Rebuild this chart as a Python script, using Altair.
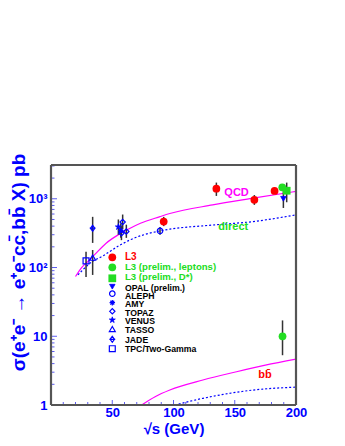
import math
import altair as alt
import pandas as pd

FONT = "Liberation Sans"
BLUE = "#0000ff"
RED = "#ff0000"
GREEN = "#22dd22"
MAGENTA = "#ff00ff"
ERR = "#333333"
FRAME = "#555555"

# ---------------- curves ----------------
qcd_x = [20, 25, 30, 35, 45, 55, 63, 73, 89, 97, 132, 165, 200]
qcd_y = [74, 100, 122, 150, 226, 300, 360, 440, 550, 610, 815, 1019, 1280]
direct_x = [22, 32, 43, 55, 64.5, 89, 97, 132, 165, 200]
direct_y = [78, 116, 150, 205, 252, 341, 361, 415, 466, 583]
bb_qcd_x = [74, 85, 97, 124, 151.5, 175, 200]
bb_qcd_y = [1.0, 1.32, 1.65, 2.31, 3.05, 3.8, 4.65]
bb_dir_x = [101, 124, 165, 200]
bb_dir_y = [1.0, 1.25, 1.65, 1.82]

# ---------------- measurements ----------------
meas_exp = ["L3", "L3", "L3", "L3",
            "L3 (prelim., leptons)", "L3 (prelim., leptons)",
            "L3 (prelim., D*)", "OPAL (prelim.)", "ALEPH", "AMY",
            "TOPAZ", "TOPAZ", "TOPAZ", "VENUS", "TASSO", "JADE", "TPC/Two-Gamma"]
meas_x = [92, 135, 166, 182.5, 188.8, 189, 192.4, 189.7, 89, 57,
          58.5, 57.5, 61.5, 55, 34, 34, 28.6]
meas_y = [466, 1400, 964, 1300, 1470, 10, 1310, 1000, 341, 345,
          460, 315, 335, 390, 139, 373, 125]
meas_lo = [400, 1100, 815, 1200, 1380, 5.3, 890, 735, 300, 270,
           360, 250, 270, 300, 78, 228, 73]
meas_hi = [545, 1720, 1133, 1420, 1560, 17, 1720, 1350, 390, 440,
           590, 400, 420, 500, 180, 546, 169]

legend_labels = ["L3", "L3 (prelim., leptons)", "L3 (prelim., D*)", "OPAL (prelim.)",
                 "ALEPH", "AMY", "TOPAZ", "VENUS", "TASSO", "JADE", "TPC/Two-Gamma"]

curve_labels = ["QCD", "direct", "bb\u0304"]
curve_label_x = [151.5, 148.8, 174.6]
curve_label_y = [1200, 386, 2.73]

# axis ranges
X_MIN, X_MAX = 0, 200
Y_MIN, Y_MAX = 1, 3100

# ---------------- styles ----------------
ASTER = "M-1,0L1,0M0,-1L0,1M-0.7,-0.7L0.7,0.7M-0.7,0.7L0.7,-0.7"
STAR = ("M0,-1L0.2245,-0.309L0.951,-0.309L0.363,0.118L0.588,0.809L0,0.382"
        "L-0.588,0.809L-0.363,0.118L-0.951,-0.309L-0.2245,-0.309Z")
JADE = "M0,-1L0.75,0L0,1L-0.75,0ZM-1,0L1,0"
STYLE = {
    "L3": dict(shape="circle", filled=True, color=RED, size=60, text=RED, fs=10),
    "L3 (prelim., leptons)": dict(shape="circle", filled=True, color=GREEN, size=60, text=GREEN, fs=9.6),
    "L3 (prelim., D*)": dict(shape="square", filled=True, color=GREEN, size=60, text=GREEN, fs=9.6),
    "OPAL (prelim.)": dict(shape="triangle-down", filled=True, color=BLUE, size=30, text="#000000", fs=8.7),
    "ALEPH": dict(shape="circle", filled=False, color=BLUE, size=30, text="#000000", fs=8.7),
    "AMY": dict(shape=ASTER, filled=False, color=BLUE, size=30, text="#000000", fs=8.7),
    "TOPAZ": dict(shape="diamond", filled=False, color=BLUE, size=28, text="#000000", fs=8.7),
    "VENUS": dict(shape=STAR, filled=True, color=BLUE, size=40, text="#000000", fs=8.7),
    "TASSO": dict(shape="triangle-up", filled=False, color=BLUE, size=35, text="#000000", fs=8.7),
    "JADE": dict(shape=JADE, filled=False, color=BLUE, size=35, text="#000000", fs=8.7),
    "TPC/Two-Gamma": dict(shape="square", filled=False, color=BLUE, size=35, text="#000000", fs=8.7),
}

# legend layout (pixels inside plot area)
LEG_SYM_X, LEG_TXT_X = 61.3, 74
LEG_SYM_Y = [92.3, 102.3, 113.3, 121.7, 128.7, 137.7, 146.3, 155, 164, 174.3, 183.7]
LEG_TXT_Y = [92.3, 101.7, 112.2, 122.5, 130.5, 138.8, 147.5, 156.2, 165.3, 175, 184]

W, H = 245, 240
DECADE_PX = H / math.log10(Y_MAX / Y_MIN)
xs = alt.Scale(domain=[X_MIN, X_MAX], nice=False, zero=False)
ys = alt.Scale(type="log", domain=[Y_MIN, Y_MAX], nice=False)

x_axis = alt.Axis(values=[50, 100, 150, 200], labelFont=FONT, labelFontWeight="bold",
                  labelFontSize=13, labelColor=BLUE, labelPadding=1, labelFlush=False,
                  labelOverlap=False, ticks=False, domain=False, grid=False,
                  title="\u221as (GeV)", titleFont=FONT, titleFontWeight="bold",
                  titleFontSize=15, titleColor=BLUE, titleX=122.5, titleY=23,
                  titleAlign="center", titleBaseline="middle")
y_axis = alt.Axis(values=[1, 10, 100, 1000], labelFont=FONT, labelFontWeight="bold",
                  labelFontSize=13, labelColor=BLUE, labelPadding=4, labelFlush=False,
                  labelOverlap=False, ticks=False, domain=False, grid=False,
                  labelExpr="datum.value >= 999 ? '10\u00b3' : datum.value >= 99 ? '10\u00b2' : datum.value >= 9 ? '10' : '1'",
                  title="\u03c3(e\u207ae\u207b \u2192 e\u207ae\u207bcc\u0304,bb\u0304 X) pb",
                  titleFont=FONT, titleFontWeight="bold", titleFontSize=19, titleColor=BLUE,
                  titleAngle=270, titleX=-33, titleY=97, titleAlign="center",
                  titleBaseline="middle")


def ex(f):
    return alt.X(f, type="quantitative", scale=xs, axis=x_axis)


def ey(f):
    return alt.Y(f, type="quantitative", scale=ys, axis=y_axis)


layers = []

# inner ticks
TICK = "#5c5cf0"
y_major = [1, 10, 100, 1000]
y_minor = [m * 10 ** k for k in range(0, 4) for m in range(2, 10) if m * 10 ** k <= Y_MAX]
x_major = [0, 50, 100, 150, 200]
x_minor = [v for v in range(10, 200, 10) if v % 50]
xmaj_len = (X_MAX - X_MIN) * 6 / W
xmin_len = (X_MAX - X_MIN) * 3.5 / W
layers.append(alt.Chart(pd.DataFrame({"v": y_major, "a": X_MIN, "b": X_MIN + xmaj_len}))
              .mark_rule(color=TICK, strokeWidth=1).encode(y=ey("v"), x=ex("a"), x2="b"))
layers.append(alt.Chart(pd.DataFrame({"v": y_minor, "a": X_MIN, "b": X_MIN + xmin_len}))
              .mark_rule(color=TICK, strokeWidth=1).encode(y=ey("v"), x=ex("a"), x2="b"))
ymaj_top = Y_MIN * 10 ** (5 / DECADE_PX)
ymin_top = Y_MIN * 10 ** (3 / DECADE_PX)
layers.append(alt.Chart(pd.DataFrame({"v": x_major, "a": Y_MIN, "b": ymaj_top}))
              .mark_rule(color=TICK, strokeWidth=1).encode(x=ex("v"), y=ey("a"), y2="b"))
layers.append(alt.Chart(pd.DataFrame({"v": x_minor, "a": Y_MIN, "b": ymin_top}))
              .mark_rule(color=TICK, strokeWidth=1).encode(x=ex("v"), y=ey("a"), y2="b"))

# curves
for cx, cy, col, dash in [(qcd_x, qcd_y, MAGENTA, None), (direct_x, direct_y, BLUE, [2, 2]),
                          (bb_qcd_x, bb_qcd_y, MAGENTA, None), (bb_dir_x, bb_dir_y, BLUE, [2, 2])]:
    kw = dict(color=col, strokeWidth=1.2, interpolate="monotone", clip=True)
    if dash:
        kw["strokeDash"] = dash
    layers.append(alt.Chart(pd.DataFrame({"x": cx, "y": cy})).mark_line(**kw).encode(
        x=ex("x"), y=ey("y")))

# curve labels
for t, lx, ly, col in zip(curve_labels, curve_label_x, curve_label_y, [MAGENTA, GREEN, RED]):
    layers.append(alt.Chart(pd.DataFrame({"x": [lx], "y": [ly], "t": [t]})).mark_text(
        font=FONT, fontWeight="bold", fontSize=11, color=col).encode(
        x=ex("x"), y=ey("y"), text="t:N"))

meas = pd.DataFrame({"exp": meas_exp, "x": meas_x, "y": meas_y, "lo": meas_lo, "hi": meas_hi})

# error bars
layers.append(alt.Chart(meas).mark_rule(color=ERR, strokeWidth=1.5).encode(
    x=ex("x"), y=ey("lo"), y2="hi"))


def marker_style(st):
    mk = dict(shape=st["shape"], size=st["size"], filled=st["filled"], opacity=1, strokeWidth=1.2)
    if st["filled"]:
        mk["fill"] = st["color"]
        if st["shape"] in ("circle", "square"):
            mk["strokeWidth"] = 0
        else:
            mk["stroke"] = st["color"]
            mk["strokeWidth"] = 0.8
    else:
        mk["stroke"] = st["color"]
        mk["fill"] = "transparent"
    return mk


# points
for name in STYLE:
    sub = meas[meas["exp"] == name]
    if len(sub) == 0:
        continue
    layers.append(alt.Chart(sub).mark_point(**marker_style(STYLE[name])).encode(
        x=ex("x"), y=ey("y")))

# legend
for i, name in enumerate(legend_labels):
    st = STYLE[name]
    one = pd.DataFrame({"t": [name]})
    layers.append(alt.Chart(one).mark_point(**marker_style(st)).encode(
        x=alt.value(LEG_SYM_X), y=alt.value(LEG_SYM_Y[i])))
    layers.append(alt.Chart(one).mark_text(
        font=FONT, fontWeight="bold", fontSize=st["fs"], color=st["text"],
        align="left", baseline="middle").encode(
        x=alt.value(LEG_TXT_X), y=alt.value(LEG_TXT_Y[i]), text="t:N"))

# plot frame: vertical and horizontal edges drawn like the error bars / ticks
layers.append(alt.Chart(pd.DataFrame({"fx": [X_MIN, X_MAX], "lo": [Y_MIN, Y_MIN], "hi": [Y_MAX, Y_MAX]}))
              .mark_rule(color=FRAME, strokeWidth=2.2).encode(x=ex("fx"), y=ey("lo"), y2="hi"))
layers.append(alt.Chart(pd.DataFrame({"fy": [Y_MIN, Y_MAX], "a": [X_MIN, X_MIN], "b": [X_MAX, X_MAX]}))
              .mark_rule(color=FRAME, strokeWidth=2.2).encode(y=ey("fy"), x=ex("a"), x2="b"))

chart = alt.layer(*layers).properties(
    width=W, height=H, autosize="none", background="white",
    padding={"left": 43, "top": 157, "right": 40, "bottom": 40},
).configure_view(stroke=None)

chart.save("out.html", embed_options={"renderer": "svg", "actions": False})
